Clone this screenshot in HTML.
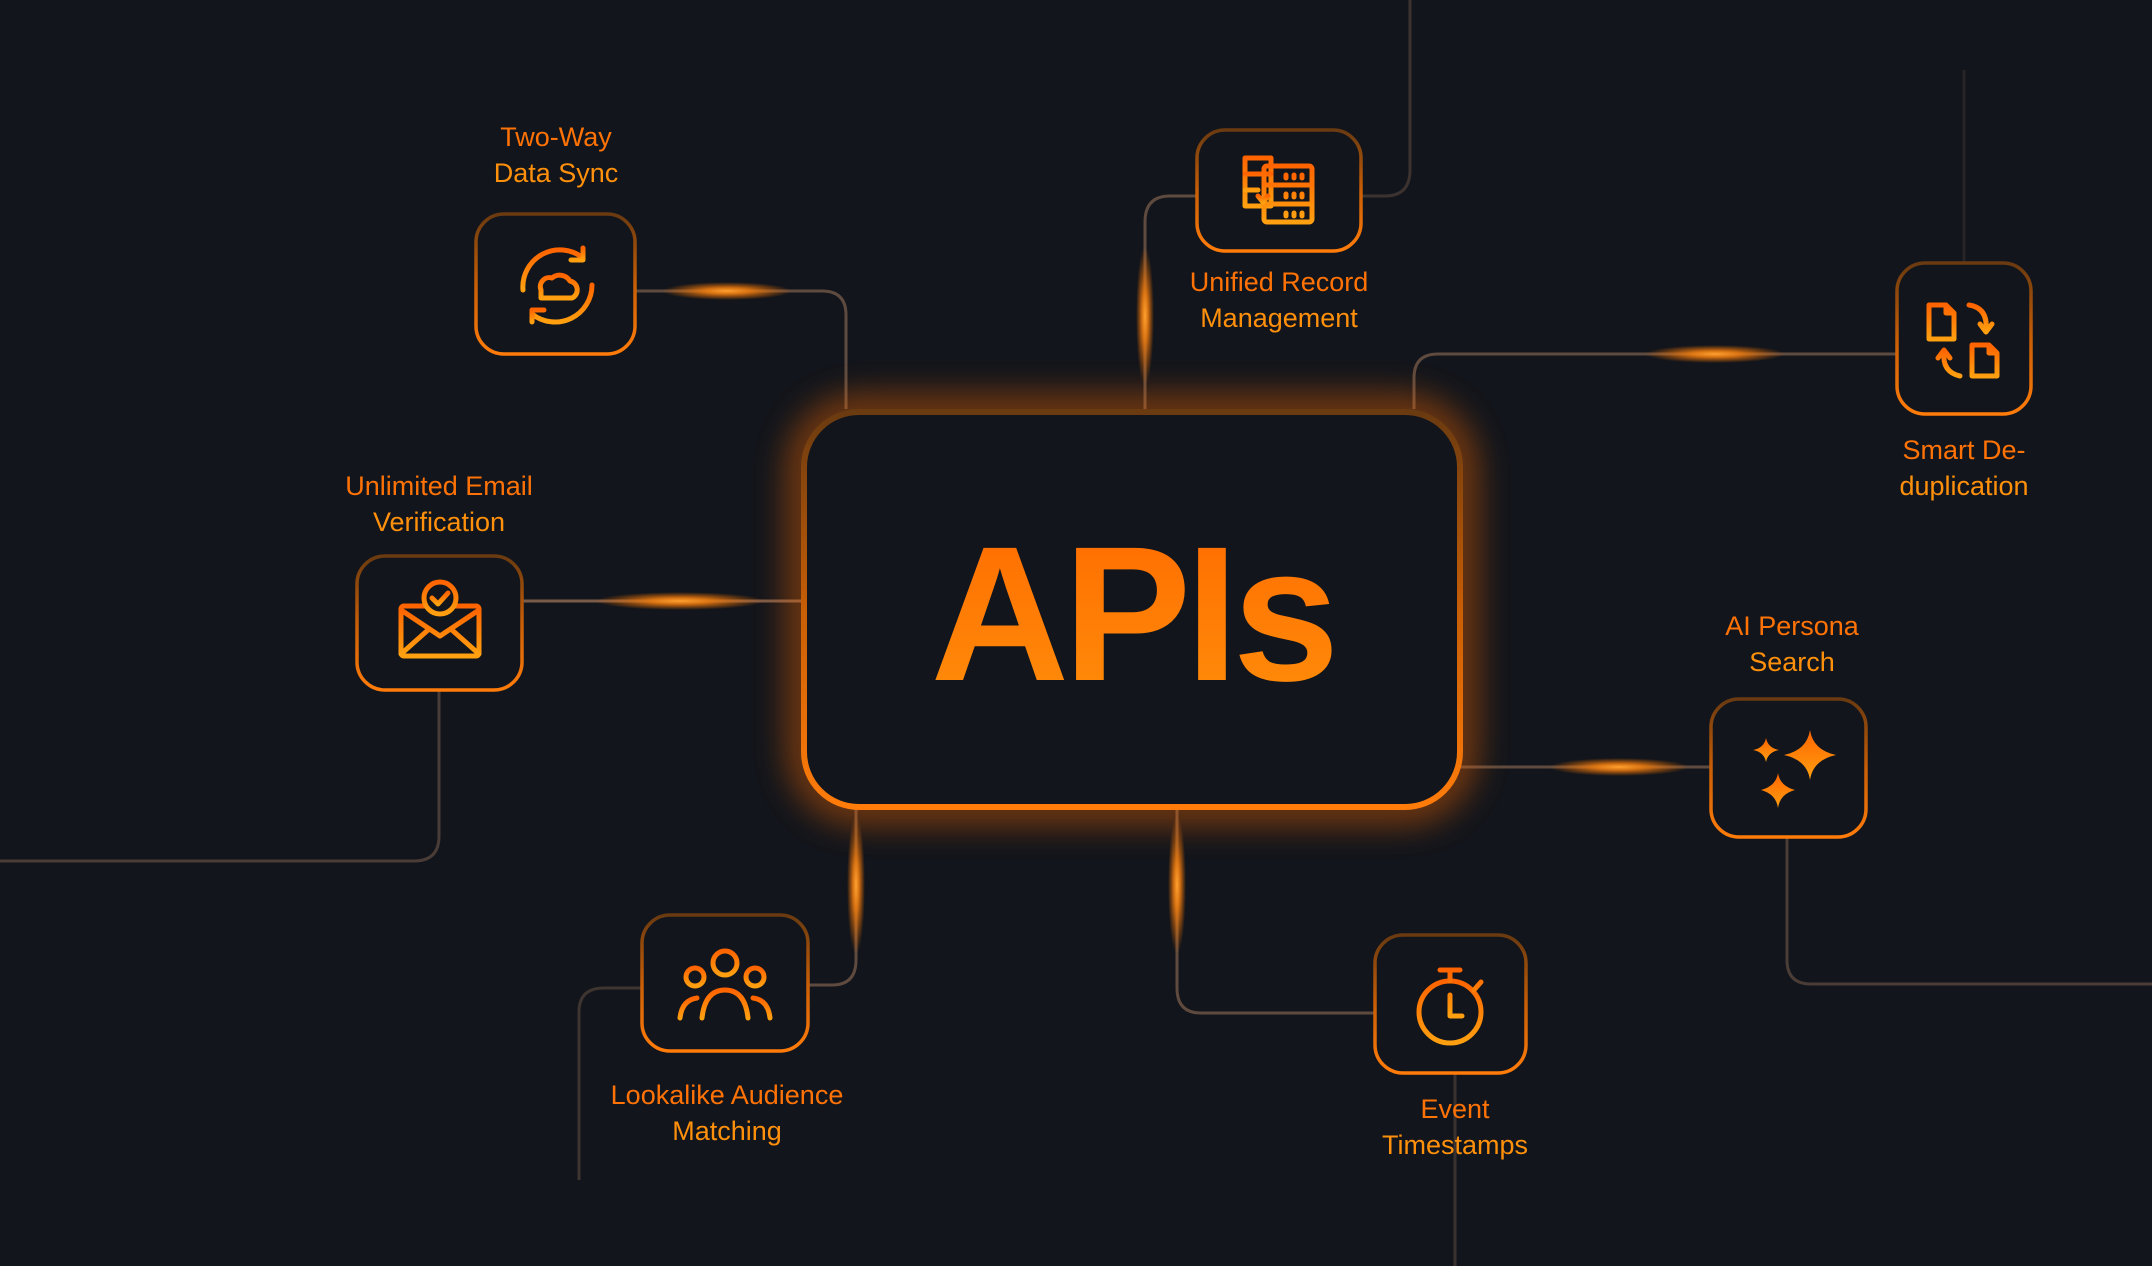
<!DOCTYPE html>
<html><head><meta charset="utf-8"><style>
html,body{margin:0;padding:0;background:#12151b;}
svg{display:block;}
text{font-family:"Liberation Sans",sans-serif;}
</style></head><body>
<svg width="2152" height="1266" viewBox="0 0 2152 1266" xmlns="http://www.w3.org/2000/svg">
<defs>
<linearGradient id="bx" x1="0" y1="0" x2="0" y2="1"><stop offset="0" stop-color="#6a3a10"/><stop offset="0.5" stop-color="#c85e06"/><stop offset="1" stop-color="#ff7c0a"/></linearGradient>
<linearGradient id="ic" x1="0" y1="0" x2="0" y2="1"><stop offset="0" stop-color="#ff6400"/><stop offset="1" stop-color="#ffa010"/></linearGradient>
<linearGradient id="tx" x1="0" y1="0" x2="0" y2="1"><stop offset="0" stop-color="#ff6a00"/><stop offset="1" stop-color="#ff8f0a"/></linearGradient>
<linearGradient id="fl" x1="0" y1="0" x2="1" y2="0"><stop offset="0" stop-color="#12151b"/><stop offset="1" stop-color="#4a3c36"/></linearGradient>
<linearGradient id="fr" x1="0" y1="0" x2="1" y2="0"><stop offset="0" stop-color="#4a3c36"/><stop offset="1" stop-color="#12151b"/></linearGradient>
<radialGradient id="gl"><stop offset="0" stop-color="#ffa030"/><stop offset="0.35" stop-color="#e87a10" stop-opacity="0.9"/><stop offset="1" stop-color="#e86a00" stop-opacity="0"/></radialGradient>
<filter id="blur" x="-30%" y="-30%" width="160%" height="160%"><feGaussianBlur stdDeviation="18"/></filter>
</defs>
<rect width="2152" height="1266" fill="#12151b"/>

<g fill="none" stroke="#5e4a3e" stroke-width="3">
<path d="M635 291 H822 Q846 291 846 315 V409"/>
<path d="M343 291 H476" stroke="url(#fl)"/>
<path d="M1197 196 H1170 Q1145 196 1145 222 V409"/>
<path d="M1361 196 H1385 Q1410 196 1410 170 V0" stroke="#3c3230"/>
<path d="M1414 409 V378 Q1414 354 1438 354 H1897"/>
<path d="M1964 70 V263" stroke="#262426"/>
<path d="M522 601 H804" stroke="#7a5a48"/>
<path d="M439 690 V836 Q439 861 414 861 H0" stroke="#4a3c36"/>
<path d="M1460 767 H1711"/>
<path d="M1787 837 V960 Q1787 984 1811 984 H2152" stroke="#4a3c36"/>
<path d="M856 807 V960 Q856 985 832 985 H808"/>
<path d="M642 988 H604 Q579 988 579 1012 V1180" stroke="#3e3430"/>
<path d="M1177 807 V988 Q1177 1013 1201 1013 H1375"/>
<path d="M1455 1073 V1266" stroke="#3a3230"/>
</g>

<ellipse cx="727" cy="291" rx="65" ry="9" fill="url(#gl)"/>
<ellipse cx="680" cy="601" rx="85" ry="9" fill="url(#gl)"/>
<ellipse cx="1715" cy="354" rx="70" ry="9" fill="url(#gl)"/>
<ellipse cx="1619" cy="767" rx="70" ry="9" fill="url(#gl)"/>
<ellipse cx="1145" cy="316" rx="9" ry="70" fill="url(#gl)"/>
<ellipse cx="856" cy="885" rx="9" ry="70" fill="url(#gl)"/>
<ellipse cx="1177" cy="885" rx="9" ry="70" fill="url(#gl)"/>

<rect x="804" y="412" width="656" height="395" rx="55" fill="none" stroke="#ff6a00" stroke-width="22" opacity="0.7" filter="url(#blur)"/>
<rect x="804" y="412" width="656" height="395" rx="55" fill="#12151b" stroke="url(#bx)" stroke-width="6"/>
<text x="1132" y="680" text-anchor="middle" font-size="192" font-weight="bold" fill="url(#tx)" letter-spacing="-6">APIs</text>

<g fill="#12151b" stroke="url(#bx)" stroke-width="3.5">
<rect x="476" y="214" width="159" height="140" rx="28"/>
<rect x="1197" y="130" width="164" height="121" rx="28"/>
<rect x="1897" y="263" width="134" height="151" rx="28"/>
<rect x="357" y="556" width="165" height="134" rx="28"/>
<rect x="1711" y="699" width="155" height="138" rx="28"/>
<rect x="642" y="915" width="166" height="136" rx="28"/>
<rect x="1375" y="935" width="151" height="138" rx="28"/>
</g>

<g font-size="27" text-anchor="middle">
<text x="556" y="146" fill="#ff7206">Two-Way</text><text x="556" y="182" fill="#ff900c">Data Sync</text>
<text x="1279" y="291" fill="#ff7206">Unified Record</text><text x="1279" y="327" fill="#ff900c">Management</text>
<text x="1964" y="459" fill="#ff7206">Smart De-</text><text x="1964" y="495" fill="#ff900c">duplication</text>
<text x="439" y="495" fill="#ff7206">Unlimited Email</text><text x="439" y="531" fill="#ff900c">Verification</text>
<text x="1792" y="635" fill="#ff7206">AI Persona</text><text x="1792" y="671" fill="#ff900c">Search</text>
<text x="727" y="1104" fill="#ff7206">Lookalike Audience</text><text x="727" y="1140" fill="#ff900c">Matching</text>
<text x="1455" y="1118" fill="#ff7206">Event</text><text x="1455" y="1154" fill="#ff900c">Timestamps</text>
</g>

<g fill="none" stroke="url(#ic)" stroke-width="5" stroke-linecap="round" stroke-linejoin="round">
<path d="M523 290 A37 37 0 0 1 583 258"/><path d="M583 248 V260 H571"/>
<path d="M592 285 A37 37 0 0 1 532 314"/><path d="M532 322 V310 H544"/>
<path d="M541 298 H572 A9 9 0 0 0 570 281 A12 12 0 0 0 552 278 A9 9 0 0 0 541 290 Z"/>
<rect x="1245" y="158" width="26" height="48"/><path d="M1245 174 H1271 M1245 190 H1258"/>
<rect x="1264" y="166" width="48" height="56" rx="3"/><path d="M1264 185 H1312 M1264 204 H1312 M1286 175 v3 M1294 175 v3 M1302 175 v3 M1286 194 v3 M1294 194 v3 M1302 194 v3 M1286 213 v3 M1294 213 v3 M1302 213 v3"/>
<path d="M1268 196 l-5 6 l-5 -6"/>
<path d="M1929 305 H1946 L1954 313 V339 H1929 Z M1946 305 V313 H1954"/>
<path d="M1972 345 H1989 L1997 353 V376 H1972 Z M1989 345 V353 H1997"/>
<path d="M1969 305 Q1988 308 1986 330 M1980 324 l6 8 l6 -8"/>
<path d="M1960 376 Q1942 372 1944 352 M1938 358 l6 -8 l6 8"/>
<rect x="401" y="606" width="78" height="50" rx="3"/>
<path d="M401 610 L440 636 L479 610 M401 654 L428 630 M479 654 L452 630"/>
<circle cx="440" cy="598" r="16" fill="#12151b"/><path d="M432 598 l6 6 l10 -11"/>
<g fill="url(#ic)" stroke="none">
<path d="M1810 730 Q1813 750 1836 755 Q1813 760 1810 780 Q1807 760 1784 755 Q1807 750 1810 730 Z"/>
<path d="M1766 738 Q1768 748 1779 750 Q1768 752 1766 762 Q1764 752 1753 750 Q1764 748 1766 738 Z"/>
<path d="M1778 773 Q1780 786 1795 790 Q1780 794 1778 808 Q1776 794 1761 790 Q1776 786 1778 773 Z"/>
</g>
<circle cx="725" cy="963" r="12"/><circle cx="695" cy="977" r="9"/><circle cx="755" cy="977" r="9"/>
<path d="M702 1018 Q705 990 725 990 Q745 990 748 1018"/>
<path d="M680 1018 Q682 1000 697 998 M770 1018 Q768 1000 753 998"/>
<circle cx="1450" cy="1012" r="31"/><path d="M1450 981 V972 M1440 970 H1460 M1450 995 V1016 H1462 M1474 990 l7 -8"/>
</g>
</svg>
</body></html>
